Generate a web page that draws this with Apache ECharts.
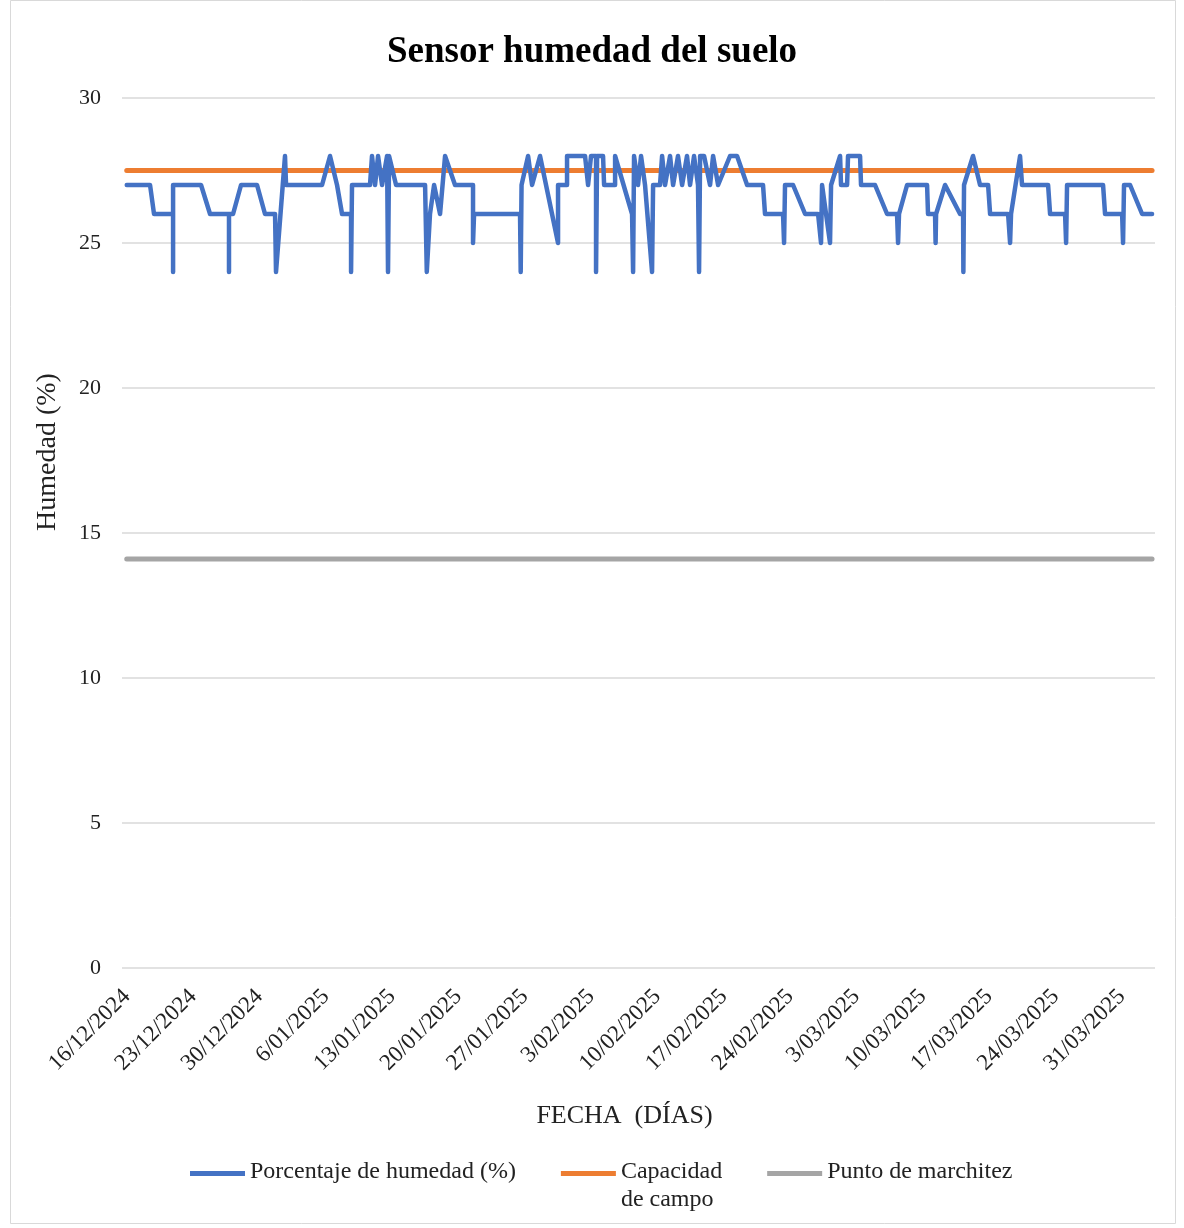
<!DOCTYPE html>
<html>
<head>
<meta charset="utf-8">
<script src="https://cdn.jsdelivr.net/npm/echarts@6/dist/echarts.min.js"></script>
<style>html,body{margin:0;padding:0;background:#fff}#c{width:1184px;height:1228px}</style>
</head>
<body>
<div id="c"></div>
<script>
// Reading time, in days after 16/12/2024 (several readings may share one day)
const readingDay = [
  0, 2.46, 2.88, 4.89, 4.89, 4.89, 7.84, 8.79, 10.79, 10.79, 10.79, 11.22, 12.06, 13.75, 14.59,
  15.65, 15.75, 16.70, 16.81, 20.61, 21.45, 22.19, 22.40, 22.72, 23.67, 23.67, 23.77, 25.67, 25.88,
  26.20, 26.52, 26.94, 27.47, 27.57, 27.68, 28.42, 31.48, 31.66, 32.00, 32.43, 33.06, 33.59, 34.64,
  36.54, 36.54, 36.65, 41.50, 41.57, 41.66, 42.35, 42.77, 43.61, 45.51, 45.51, 46.46, 46.46, 48.36,
  48.68, 48.99, 49.52, 49.52, 49.63, 50.26, 50.37, 51.53, 51.53, 53.32, 53.43, 53.53, 53.95, 54.27,
  54.69, 55.43, 55.54, 56.27, 56.49, 56.80, 57.33, 57.65, 58.17, 58.60, 59.12, 59.44, 59.86, 60.28,
  60.39, 60.50, 60.92, 61.55, 61.87, 62.40, 63.66, 64.40, 65.46, 67.14, 67.35, 69.25, 69.36, 69.46,
  70.31, 71.58, 72.95, 73.26, 73.37, 74.21, 74.32, 75.27, 75.37, 76.01, 76.11, 77.38, 77.48, 78.96,
  80.23, 81.28, 81.39, 81.49, 82.34, 84.45, 84.55, 85.29, 85.35, 85.40, 86.35, 87.93, 88.25, 88.28,
  88.35, 89.30, 90.04, 90.89, 91.10, 93.00, 93.21, 93.31, 94.26, 94.47, 97.22, 97.43, 99.01, 99.12,
  99.22, 103.02, 103.23, 105.03, 105.13, 105.23, 105.87, 107.14, 108.19
];
const humidity = [
  27, 27, 26, 26, 24, 27, 27, 26, 26, 24, 26, 26, 27, 27, 26,
  26, 24, 28, 27, 27, 28, 27, 27, 26, 26, 24, 27, 27, 28,
  27, 28, 27, 28, 24, 28, 27, 27, 24, 26, 27, 26, 28, 27,
  27, 25, 26, 26, 24, 27, 28, 27, 28, 25, 27, 27, 28, 28,
  27, 28, 28, 24, 28, 28, 27, 27, 28, 26, 24, 28, 27, 28,
  27, 24, 27, 27, 28, 27, 28, 27, 28, 27, 28, 27, 28, 27,
  24, 28, 28, 27, 28, 27, 28, 28, 27, 27, 26, 26, 25, 27,
  27, 26, 26, 25, 27, 25, 27, 28, 27, 27, 28, 28, 27, 27,
  26, 26, 25, 26, 27, 27, 26, 26, 25, 26, 27, 26, 26, 24,
  27, 28, 27, 27, 26, 26, 25, 26, 28, 27, 27, 26, 26, 25,
  27, 27, 26, 26, 25, 27, 27, 26, 26
];
const fieldCapacity = 27.5;
const wiltingPoint = 14.1;
const tickDays = [0, 7, 14, 21, 28, 35, 42, 49, 56, 63, 70, 77, 84, 91, 98, 105];
const tickLabels = ['16/12/2024', '23/12/2024', '30/12/2024', '6/01/2025', '13/01/2025', '20/01/2025',
  '27/01/2025', '3/02/2025', '10/02/2025', '17/02/2025', '24/02/2025', '3/03/2025', '10/03/2025',
  '17/03/2025', '24/03/2025', '31/03/2025'];
const seriesNames = ['Porcentaje de humedad (%)', 'Capacidad\nde campo', 'Punto de marchitez'];

const serif = '"Liberation Serif", "Times New Roman", serif';
const firstDay = readingDay[0], lastDay = readingDay[readingDay.length - 1];
const chart = echarts.init(document.getElementById('c'), null, {renderer: 'canvas'});
chart.setOption({
  animation: false,
  backgroundColor: '#fff',
  title: {
    text: 'Sensor humedad del suelo', left: 'center', top: 29,
    textStyle: {fontFamily: serif, fontSize: 37, fontWeight: 'bold', color: '#000'}
  },
  grid: {left: 122, right: 29, top: 98, bottom: 260},
  legend: {
    top: 1153, left: 185, itemGap: 45, itemWidth: 55, itemHeight: 30,
    icon: 'path://M0,0H55V5H0Z M0,29.99H0.01V30H0Z',
    formatter: name => name === seriesNames[1] ? name : name + '\n ',
    textStyle: {fontFamily: serif, fontSize: 24, lineHeight: 28, color: '#222'},
    data: seriesNames
  },
  xAxis: {
    type: 'value', min: -0.5, max: 108.5,
    name: 'FECHA  (DÍAS)', nameLocation: 'middle', nameGap: 135,
    nameTextStyle: {fontFamily: serif, fontSize: 26, color: '#222', padding: [0, 28, 0, 0]},
    axisLine: {show: false}, axisTick: {show: false}, splitLine: {show: false},
    axisLabel: {
      customValues: tickDays, rotate: 45, margin: 25,
      fontFamily: serif, fontSize: 23, color: '#222',
      formatter: v => tickLabels[tickDays.indexOf(Math.round(v))] || ''
    }
  },
  yAxis: {
    type: 'value', min: 0, max: 30, interval: 5,
    axisLine: {show: false}, axisTick: {show: false},
    axisLabel: {fontFamily: serif, fontSize: 22, color: '#222', margin: 21},
    splitLine: {lineStyle: {color: '#d9d9d9', width: 1.5}}
  },
  graphic: [
    {type: 'rect', shape: {x: 10.5, y: 0.5, width: 1165, height: 1223},
     style: {fill: 'none', stroke: '#d9d9d9', lineWidth: 1}, silent: true},
    {type: 'text', x: 48, y: 452, rotation: Math.PI / 2,
     style: {text: 'Humedad (%)', font: '28px ' + serif, fill: '#222', textAlign: 'center', textVerticalAlign: 'middle'}}
  ],
  series: [
    {
      name: seriesNames[0], type: 'line', showSymbol: false, symbol: 'none', z: 3,
      data: readingDay.map((d, i) => [d, humidity[i]]),
      itemStyle: {color: '#4472C4'},
      lineStyle: {color: '#4472C4', width: 4.5, cap: 'round', join: 'round'}
    },
    {
      name: seriesNames[1], type: 'line', showSymbol: false, symbol: 'none', z: 2,
      data: [[firstDay, fieldCapacity], [lastDay, fieldCapacity]],
      itemStyle: {color: '#ED7D31'},
      lineStyle: {color: '#ED7D31', width: 5, cap: 'round'}
    },
    {
      name: seriesNames[2], type: 'line', showSymbol: false, symbol: 'none', z: 2,
      data: [[firstDay, wiltingPoint], [lastDay, wiltingPoint]],
      itemStyle: {color: '#A5A5A5'},
      lineStyle: {color: '#A5A5A5', width: 5, cap: 'round'}
    }
  ]
});
</script>
</body>
</html>
